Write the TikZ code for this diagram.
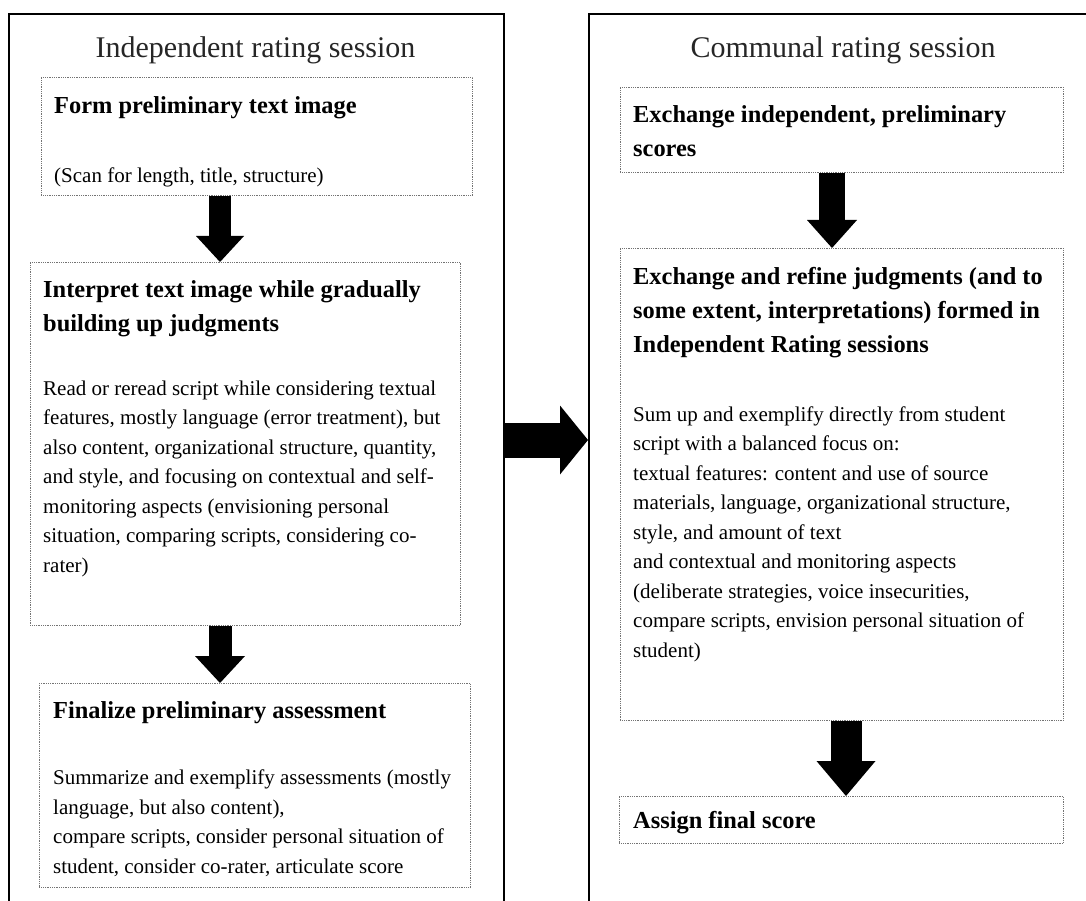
\documentclass[tikz,border=0pt]{standalone}
\usepackage{fontspec}
\setmainfont{Liberation Serif}
\usetikzlibrary{arrows.meta}

\tikzset{
  frame/.style={draw, line width=2.2pt, anchor=north west, inner sep=0pt},
  stage/.style={draw=black!55, densely dotted, line width=0.8pt, anchor=north west, inner sep=0pt},
  title/.style={anchor=base, inner sep=0pt, text=black!85, font=\fontsize{30}{36}\selectfont},
  head/.style={anchor=base west, inner sep=0pt, align=left, font=\bfseries\fontsize{24.4}{34}\selectfont},
  body/.style={anchor=base west, inner sep=0pt, align=left, font=\fontsize{21}{29.5}\selectfont},
  bigarrow/.style n args={3}{line width=#1, -{Triangle[width=#2, length=#3, line width=0pt]}}
}

\begin{document}
\begin{tikzpicture}[x=1pt, y=-1pt]
\useasboundingbox (0,0) rectangle (1086,901);
\clip (0,0) rectangle (1086,901);

% sessions
\node[frame, minimum width=495pt, minimum height=950pt] (indep) at (8,13) {};
\node[frame, minimum width=520pt, minimum height=950pt] (comm) at (588,13) {};
\node[title] (indeptitle) at (255.5,58) {Independent rating session};
\node[title] (commtitle) at (843,58) {Communal rating session};

% independent rating (text nodes sit on the baseline of their last line)
\node[stage, minimum width=431pt, minimum height=118pt] (form) at (41,77) {};
\node[head] (formhead) at (54,114) {Form preliminary text image};
\node[body] (formtext) at (54,183) {(Scan for length, title, structure)};

\node[stage, minimum width=430pt, minimum height=363pt] (interp) at (30,262) {};
\node[head] (interphead) at (43,331) {Interpret text image while gradually\\building up judgments};
\node[body] (interptext) at (43,572) {Read or reread script while considering textual\\
  features, mostly language (error treatment), but\\
  also content, organizational structure, quantity,\\
  and style, and focusing on contextual and self-\\
  monitoring aspects (envisioning personal\\
  situation, comparing scripts, considering co-\\
  rater)};

\node[stage, minimum width=431pt, minimum height=204pt] (final) at (39,683) {};
\node[head] (finalhead) at (53,718) {Finalize preliminary assessment};
\node[body] (finaltext) at (53,873) {Summarize and exemplify assessments (mostly\\
  language, but also content),\\
  compare scripts, consider personal situation of\\
  student, consider co-rater, articulate score};

% communal rating
\node[stage, minimum width=443pt, minimum height=85pt] (exind) at (620,87) {};
\node[head] (exindhead) at (633,157) {Exchange independent, preliminary\\scores};

\node[stage, minimum width=443pt, minimum height=472pt] (exref) at (620,248) {};
\node[head] (exrefhead) at (633,352) {Exchange and refine judgments (and to\\
  some extent, interpretations) formed in\\
  Independent Rating sessions};
\node[body] (exreftext) at (633,657) {Sum up and exemplify directly from student\\
  script with a balanced focus on:\\
  textual features: content and use of source\\
  materials, language, organizational structure,\\
  style, and amount of text\\
  and contextual and monitoring aspects\\
  (deliberate strategies, voice insecurities,\\
  compare scripts, envision personal situation of\\
  student)};

\node[stage, minimum width=444pt, minimum height=47pt] (assign) at (619,796) {};
\node[head] (assignhead) at (633,828) {Assign final score};

% block arrows
\coordinate (leftx) at (220,0);
\coordinate (ax) at (832,0);
\coordinate (bx) at (846,0);
\coordinate (mid) at (0,440);

\draw[bigarrow={22pt}{48pt}{26pt}] (leftx |- form.south) -- (leftx |- interp.north);
\draw[bigarrow={23pt}{50pt}{27pt}] (leftx |- interp.south) -- (leftx |- final.north);
\draw[bigarrow={26pt}{50pt}{28pt}] (ax |- exind.south) -- (ax |- exref.north);
\draw[bigarrow={31pt}{59pt}{35pt}] (bx |- exref.south) -- (bx |- assign.north);
\draw[bigarrow={35pt}{69pt}{28pt}] (indep.east |- mid) -- (comm.west |- mid);
\end{tikzpicture}
\end{document}
